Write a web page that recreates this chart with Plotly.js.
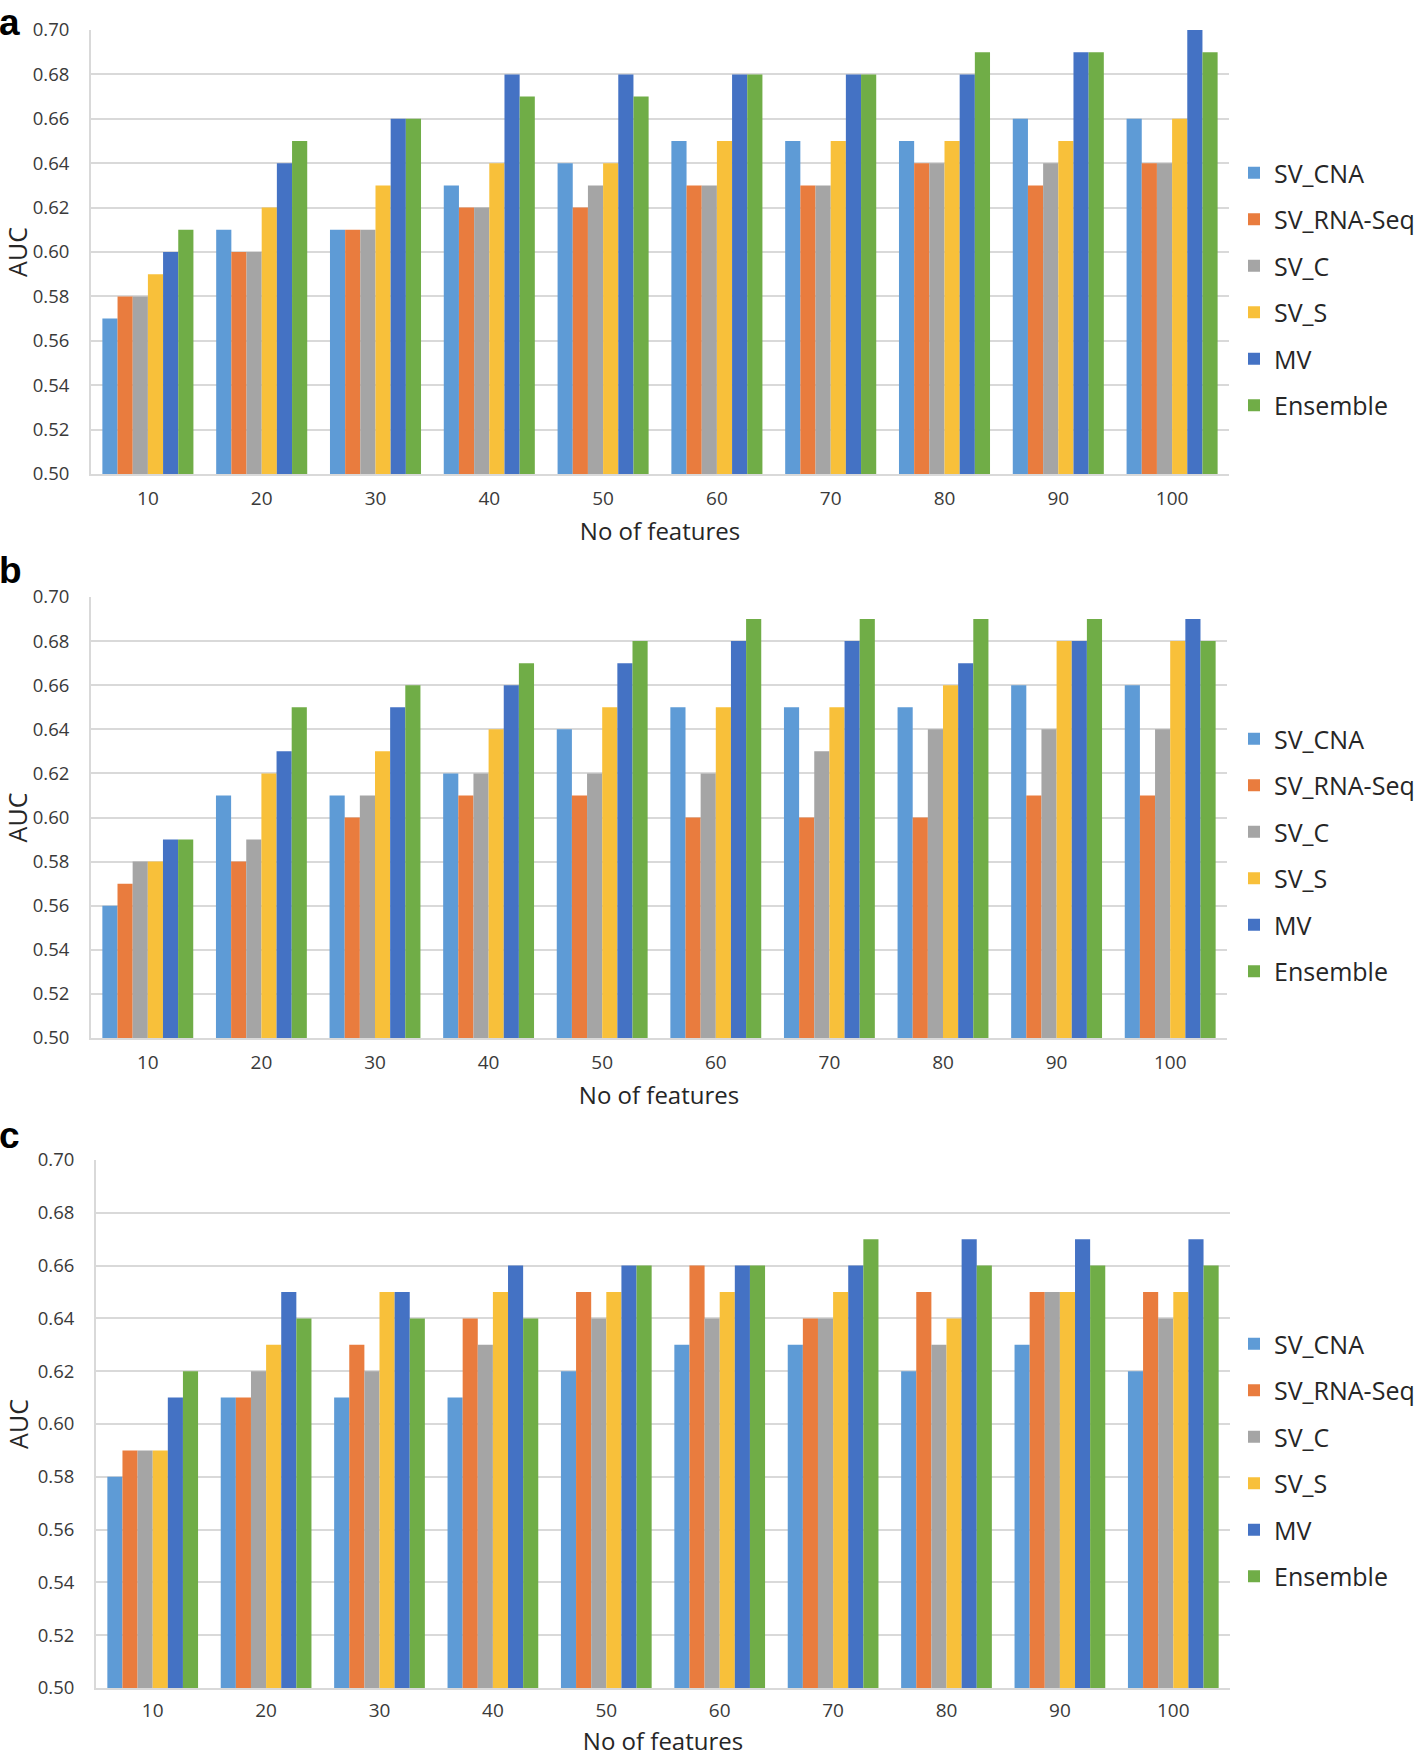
<!DOCTYPE html>
<html>
<head>
<meta charset="utf-8">
<script src="https://cdn.plot.ly/plotly-3.0.1.min.js"></script>
<style>html,body{margin:0;padding:0;background:#fff;}#chart{width:1418px;height:1757px;}</style>
</head>
<body>
<div id="chart"></div>
<script>
// ---- data ----
const categories = ["10","20","30","40","50","60","70","80","90","100"];
const seriesNames = ["SV_CNA","SV_RNA-Seq","SV_C","SV_S","MV","Ensemble"];
const seriesColors = ["#5E9BD6","#E97C3E","#A5A5A5","#F8C03A","#4472C4","#70AD47"];

// Panel a
const a_SV_CNA   = [0.57,0.61,0.61,0.63,0.64,0.65,0.65,0.65,0.66,0.66];
const a_SV_RNA   = [0.58,0.60,0.61,0.62,0.62,0.63,0.63,0.64,0.63,0.64];
const a_SV_C     = [0.58,0.60,0.61,0.62,0.63,0.63,0.63,0.64,0.64,0.64];
const a_SV_S     = [0.59,0.62,0.63,0.64,0.64,0.65,0.65,0.65,0.65,0.66];
const a_MV       = [0.60,0.64,0.66,0.68,0.68,0.68,0.68,0.68,0.69,0.70];
const a_Ensemble = [0.61,0.65,0.66,0.67,0.67,0.68,0.68,0.69,0.69,0.69];

// Panel b
const b_SV_CNA   = [0.56,0.61,0.61,0.62,0.64,0.65,0.65,0.65,0.66,0.66];
const b_SV_RNA   = [0.57,0.58,0.60,0.61,0.61,0.60,0.60,0.60,0.61,0.61];
const b_SV_C     = [0.58,0.59,0.61,0.62,0.62,0.62,0.63,0.64,0.64,0.64];
const b_SV_S     = [0.58,0.62,0.63,0.64,0.65,0.65,0.65,0.66,0.68,0.68];
const b_MV       = [0.59,0.63,0.65,0.66,0.67,0.68,0.68,0.67,0.68,0.69];
const b_Ensemble = [0.59,0.65,0.66,0.67,0.68,0.69,0.69,0.69,0.69,0.68];

// Panel c
const c_SV_CNA   = [0.58,0.61,0.61,0.61,0.62,0.63,0.63,0.62,0.63,0.62];
const c_SV_RNA   = [0.59,0.61,0.63,0.64,0.65,0.66,0.64,0.65,0.65,0.65];
const c_SV_C     = [0.59,0.62,0.62,0.63,0.64,0.64,0.64,0.63,0.65,0.64];
const c_SV_S     = [0.59,0.63,0.65,0.65,0.65,0.65,0.65,0.64,0.65,0.65];
const c_MV       = [0.61,0.65,0.65,0.66,0.66,0.66,0.66,0.67,0.67,0.67];
const c_Ensemble = [0.62,0.64,0.64,0.64,0.66,0.66,0.67,0.66,0.66,0.66];

const yTickVals = [0.50,0.52,0.54,0.56,0.58,0.60,0.62,0.64,0.66,0.68,0.70];
const panelLabels = ["a","b","c"];
const xTitle = "No of features";
const yTitle = "AUC";

// ---- build ----
const W = 1418, H = 1757;
const panels = [
  {key:"a", data:[a_SV_CNA,a_SV_RNA,a_SV_C,a_SV_S,a_MV,a_Ensemble], x:[91,1229], y:[30,474], legTop:150, lab:[-3,0], tso:6},
  {key:"b", data:[b_SV_CNA,b_SV_RNA,b_SV_C,b_SV_S,b_MV,b_Ensemble], x:[91,1227], y:[597,1038], legTop:716, lab:[-3,548], tso:6},
  {key:"c", data:[c_SV_CNA,c_SV_RNA,c_SV_C,c_SV_S,c_MV,c_Ensemble], x:[96,1230], y:[1160,1688], legTop:1321, lab:[-3,1113], tso:4}
];

const traces = [];
const layout = {
  width: W, height: H,
  margin: {l:0, r:0, t:0, b:0, autoexpand: false},
  paper_bgcolor: "#ffffff",
  plot_bgcolor: "#ffffff",
  barmode: "group",
  bargap: 0.2,
  bargroupgap: 0,
  font: {family: "Open Sans, Noto Sans, sans-serif", color: "#3a3a3a", size: 18},
  showlegend: true,
  annotations: []
};

panels.forEach((p, i) => {
  const n = i + 1;
  const xa = n === 1 ? "x" : "x" + n;
  const ya = n === 1 ? "y" : "y" + n;
  const legKey = n === 1 ? "legend" : "legend" + n;
  p.data.forEach((vals, s) => {
    traces.push({
      type: "bar",
      name: seriesNames[s],
      x: categories,
      y: vals,
      xaxis: xa, yaxis: ya,
      legend: legKey,
      legendgroup: p.key + s,
      marker: {color: seriesColors[s], line: {width: 0}},
      hoverinfo: "x+y+name"
    });
  });
  const xKey = n === 1 ? "xaxis" : "xaxis" + n;
  const yKey = n === 1 ? "yaxis" : "yaxis" + n;
  layout[xKey] = {
    domain: [p.x[0]/W, p.x[1]/W],
    anchor: ya,
    type: "category",
    showgrid: false,
    showline: true, linecolor: "#D9D9D9", linewidth: 2,
    ticks: "", ticklabelstandoff: p.tso,
    tickfont: {size: 19, color: "#3a3a3a"},
    title: {text: xTitle, font: {size: 24, color: "#262626"}, standoff: 13},
    automargin: false
  };
  layout[yKey] = {
    domain: [1 - p.y[1]/H, 1 - p.y[0]/H],
    anchor: xa,
    range: [0.50, 0.70],
    tickvals: yTickVals,
    tickformat: ".2f",
    showgrid: true, gridcolor: "#D9D9D9", gridwidth: 2,
    showline: true, linecolor: "#D9D9D9", linewidth: 2,
    zeroline: false,
    ticks: "", ticklabelstandoff: 16,
    tickfont: {size: 18.5, color: "#3a3a3a"},
    title: {text: yTitle, font: {size: 25, color: "#262626"}, standoff: 2},
    automargin: false
  };
  layout[legKey] = {
    x: 1234/W, xanchor: "left",
    y: 1 - p.legTop/H, yanchor: "top",
    font: {size: 25, color: "#262626"},
    bgcolor: "rgba(0,0,0,0)",
    tracegroupgap: 11,
    traceorder: "grouped"
  };
  layout.annotations.push({
    text: "<b>" + panelLabels[i] + "</b>",
    xref: "paper", yref: "paper",
    x: p.lab[0]/W, y: 1 - p.lab[1]/H,
    xanchor: "left", yanchor: "top",
    showarrow: false,
    font: {family: "Liberation Sans, Arial, sans-serif", size: 37, color: "#000000"}
  });
});

Plotly.newPlot("chart", traces, layout, {displayModeBar: false, staticPlot: true});
</script>
</body>
</html>
